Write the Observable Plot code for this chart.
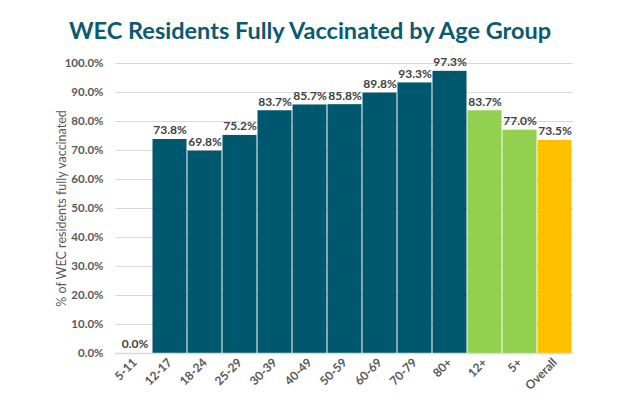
<!DOCTYPE html>
<html><head><meta charset="utf-8">
<script src="https://cdn.jsdelivr.net/npm/d3@7"></script>
<script src="https://cdn.jsdelivr.net/npm/@observablehq/plot@0.6"></script>
<style>
body{margin:0;background:#fff;font-family:Lato,"Open Sans",sans-serif;}
#title{height:50px;line-height:60px;text-align:center;font-weight:bold;font-size:23.5px;color:#0b5a70;font-family:Lato,sans-serif;}
</style></head>
<body>
<div id="title">WEC Residents Fully Vaccinated by Age Group</div>
<div id="chart"></div>
<script>
const categories = ["5-11","12-17","18-24","25-29","30-39","40-49","50-59","60-69","70-79","80+","12+","5+","Overall"];
const values = [0.0,73.8,69.8,75.2,83.7,85.7,85.8,89.8,93.3,97.3,83.7,77.0,73.5];
const groups = ["age","age","age","age","age","age","age","age","age","age","summary","summary","overall"];
const yTicks = [0,10,20,30,40,50,60,70,80,90,100];
const colorMap = {age:"#00586f", summary:"#92d050", overall:"#ffc000"};

const data = categories.map((c,i)=>({cat:c, v:values[i], g:groups[i]}));
const fmt = d => d.toFixed(1) + "%";

const chart = Plot.plot({
  width: 620, height: 359,
  marginTop: 13, marginBottom: 56, marginLeft: 115, marginRight: 47,
  style: {fontFamily: "Lato, sans-serif", fontSize: "11.5px", color: "#595959", background: "#fff"},
  x: {domain: categories, padding: 0},
  y: {domain: [0, 100]},
  marks: [
    Plot.gridY(yTicks, {stroke: "#d9d9d9", strokeOpacity: 1}),
    Plot.barY(data, {x: "cat", y: "v", fill: d => colorMap[d.g], insetLeft: 0.5, insetRight: 0.5}),
    Plot.ruleY([0], {stroke: "#d9d9d9", strokeWidth: 1.5}),
    Plot.text(data, {x: "cat", y: "v", text: d => fmt(d.v), dy: -9, fontWeight: "bold", fill: "#404040", fontSize: 12}),
    Plot.axisY({ticks: yTicks, tickFormat: fmt, tickSize: 0, tickPadding: 12, fontWeight: "bold", fill: "#595959", label: null}),
    Plot.axisY({ticks: [], tickSize: 0, fill: "#595959", fontSize: 12.5,
      label: "% of WEC residents fully vaccinated", labelAnchor: "center", labelArrow: "none", labelOffset: 58}),
    Plot.axisX({tickRotate: -45, tickSize: 0, tickPadding: 7, fontWeight: "bold", fill: "#595959", fontSize: 12, label: null})
  ]
});
document.getElementById("chart").appendChild(chart);
</script>
</body></html>
